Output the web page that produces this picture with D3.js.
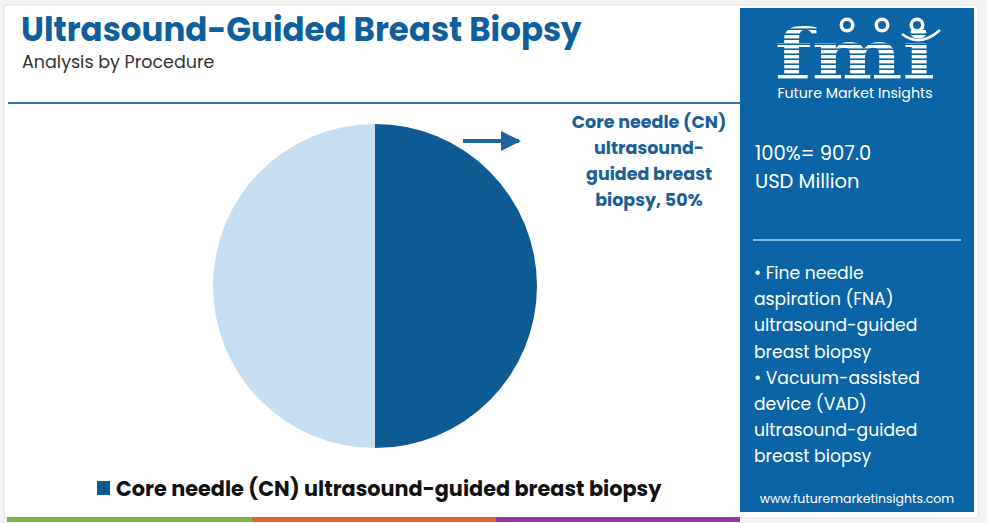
<!DOCTYPE html>
<html>
<head>
<meta charset="utf-8">
<script src="https://cdn.jsdelivr.net/npm/d3@7"></script>
<style>
  body { margin: 0; background: #f3f3f3; }
  svg { display: block; font-family: "Poppins", Inter, "Noto Sans", sans-serif; }
</style>
</head>
<body>
<svg></svg>
<script>
const segments = ["Core needle (CN) ultrasound-guided breast biopsy", "Other procedures"];
const shares = [50, 50];
const segColors = ["#0e5b93", "#c6def0"];
const legendItems = ["Core needle (CN) ultrasound-guided breast biopsy"];
const calloutLines = ["Core needle (CN)", "ultrasound-", "guided breast", "biopsy, 50%"];
const totalLines = ["100%= 907.0", "USD Million"];
const otherLines = ["• Fine needle", "aspiration (FNA)", "ultrasound-guided", "breast biopsy", "• Vacuum-assisted", "device (VAD)", "ultrasound-guided", "breast biopsy"];
const stripColors = ["#7cb342", "#e0603a", "#8e3b97"];

const W = 987, H = 523;
const svg = d3.select("svg").attr("width", W).attr("height", H);
const defs = svg.append("defs");

// card
svg.append("rect").attr("x", 4).attr("y", 5).attr("width", 974).attr("height", 513)
   .attr("rx", 3).attr("fill", "#fff").attr("stroke", "#e2e2e2");

// header
svg.append("text").attr("x", 21).attr("y", 41).text("Ultrasound-Guided Breast Biopsy")
   .attr("font-size", 32.5).attr("font-weight", 700).attr("fill", "#0f5f9c");
svg.append("text").attr("x", 22).attr("y", 68).text("Analysis by Procedure")
   .attr("font-size", 17.5).attr("fill", "#333");
svg.append("line").attr("x1", 8).attr("x2", 740).attr("y1", 103).attr("y2", 103)
   .attr("stroke", "#2f75b0").attr("stroke-width", 2);

// pie
const cx = 375, cy = 286, r = 162;
const pie = d3.pie().sort(null).value(d => d)(shares);
const arc = d3.arc().innerRadius(0).outerRadius(r);
svg.append("g").attr("transform", `translate(${cx},${cy})`)
   .selectAll("path").data(pie).enter().append("path")
   .attr("d", arc).attr("fill", (d, i) => segColors[i]);

// callout
defs.append("marker").attr("id", "ah")
   .attr("viewBox", "0 0 10 10").attr("refX", 9).attr("refY", 5)
   .attr("markerWidth", 5).attr("markerHeight", 5).attr("orient", "auto")
   .append("path").attr("d", "M0,0L10,5L0,10Z").attr("fill", "#1d63a0");
svg.append("line").attr("x1", 463).attr("x2", 519).attr("y1", 141).attr("y2", 141)
   .attr("stroke", "#1d63a0").attr("stroke-width", 4).attr("marker-end", "url(#ah)");
svg.append("g").selectAll("text").data(calloutLines).enter().append("text")
   .attr("x", 649).attr("y", (d, i) => 128 + i * 26).attr("text-anchor", "middle")
   .attr("font-size", 17.5).attr("font-weight", 700).attr("fill", "#1b5f97").text(d => d);

// legend
const lg = svg.append("g").attr("transform", "translate(97,481)");
lg.selectAll("rect").data(legendItems).enter().append("rect")
  .attr("width", 13).attr("height", 14).attr("fill", segColors[0]);
lg.selectAll("text").data(legendItems).enter().append("text")
  .attr("x", 19).attr("y", 15).attr("font-size", 20.8).attr("font-weight", 700)
  .attr("fill", "#111").text(d => d);

// bottom strip
const sx = d3.scaleBand().domain(stripColors).range([7, 740]);
svg.append("g").selectAll("rect").data(stripColors).enter().append("rect")
   .attr("x", d => sx(d)).attr("y", 517).attr("width", sx.bandwidth()).attr("height", 5)
   .attr("fill", d => d);

// right panel
svg.append("rect").attr("x", 740).attr("y", 8).attr("width", 234).attr("height", 504).attr("fill", "#0b64a6");

// logo
const logo = svg.append("g");
const pat = defs.append("pattern").attr("id", "stripes")
   .attr("patternUnits", "userSpaceOnUse").attr("width", 10).attr("height", 5);
pat.append("rect").attr("width", 10).attr("height", 3.4).attr("fill", "#fff");
logo.append("text").attr("x", 775).attr("y", 79)
   .attr("font-family", "DejaVu Serif").attr("font-weight", 700).attr("font-size", 70)
   .attr("textLength", 160).attr("lengthAdjust", "spacingAndGlyphs")
   .attr("fill", "url(#stripes)").text("fmi");
[[847, 25], [882, 25], [917, 25]].forEach(p => {
  logo.append("circle").attr("cx", p[0]).attr("cy", p[1]).attr("r", 7.5).attr("fill", "#fff");
  logo.append("circle").attr("cx", p[0]).attr("cy", p[1]).attr("r", 4).attr("fill", "#0b64a6");
});
logo.append("path").attr("d", "M902,34 Q920,48 940,30").attr("fill", "none")
   .attr("stroke", "#fff").attr("stroke-width", 2.5);
logo.append("text").attr("x", 855).attr("y", 98).attr("text-anchor", "middle")
   .attr("font-size", 14.2).attr("fill", "#fff").text("Future Market Insights");

svg.append("g").selectAll("text").data(totalLines).enter().append("text")
   .attr("x", 755).attr("y", (d, i) => 160 + i * 28).attr("font-size", 19.5)
   .attr("fill", "#fff").text(d => d);
svg.append("line").attr("x1", 753).attr("x2", 961).attr("y1", 240).attr("y2", 240)
   .attr("stroke", "#7bbbe8").attr("stroke-width", 2);
svg.append("g").selectAll("text").data(otherLines).enter().append("text")
   .attr("x", 754).attr("y", (d, i) => 279 + i * 26.2).attr("font-size", 17.2)
   .attr("fill", "#fff").text(d => d);
svg.append("text").attr("x", 857).attr("y", 503).attr("text-anchor", "middle")
   .attr("font-size", 12.5).attr("fill", "#fff").text("www.futuremarketinsights.com");
</script>
</body>
</html>
